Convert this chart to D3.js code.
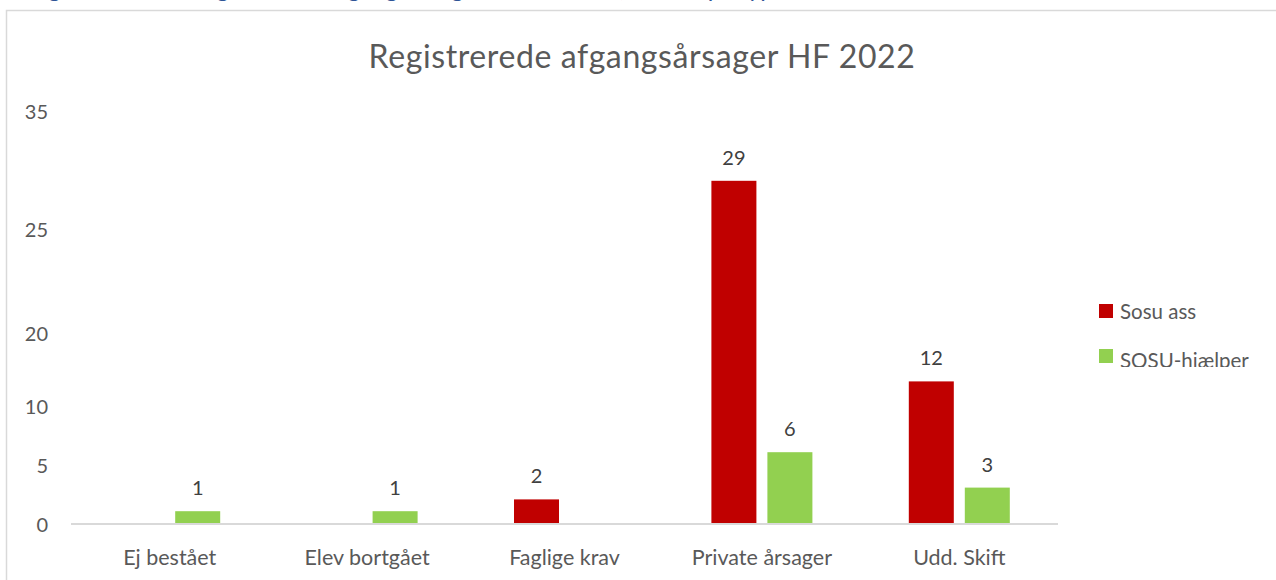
<!DOCTYPE html>
<html>
<head>
<meta charset="utf-8">
<script src="https://cdn.jsdelivr.net/npm/d3@7"></script>
<style>
  html, body { margin: 0; padding: 0; background: #fff; }
  svg { display: block; font-family: Lato, "Open Sans", sans-serif; }
</style>
</head>
<body>
<svg id="chart" width="1276" height="580"></svg>
<script>
// ---- data ----
const categories = ["Ej bestået", "Elev bortgået", "Faglige krav", "Private årsager", "Udd. Skift"];
const seriesNames = ["Sosu ass", "SOSU-hjælper"];
const sosuAss = [0, 0, 2, 29, 12];
const sosuHjaelper = [1, 1, 0, 6, 3];
const seriesColors = ["#C00000", "#92D050"];
const yTickValues = [0, 5, 10, 16.2, 25, 35];
const yTickLabels = ["0", "5", "10", "20", "25", "35"];
const chartTitle = "Registrerede afgangsårsager HF 2022";
const captionText = "Figur 10: Antal Registrerede afgangsårsager for HF 2022, fordelt på type";

const seriesValues = [sosuAss, sosuHjaelper];
const FONT = "Lato, 'Open Sans', sans-serif";

const svg = d3.select("#chart");

// cut-off caption above the chart
svg.append("text")
  .attr("x", 29).attr("y", -3)
  .attr("font-size", 24)
  .attr("fill", "#2F5496")
  .text(captionText);

// chart frame
svg.append("rect")
  .attr("x", 6.5).attr("y", 10.5)
  .attr("width", 1300).attr("height", 600)
  .attr("fill", "none").attr("stroke", "#d9d9d9").attr("stroke-width", 1.5);

// title
svg.append("text")
  .attr("x", 642).attr("y", 68)
  .attr("text-anchor", "middle")
  .attr("font-size", 32)
  .attr("letter-spacing", 0.6)
  .attr("fill", "#595959")
  .text(chartTitle);

// scales
const x0 = d3.scaleBand().domain(categories).range([71, 1058]).padding(0);
const x1 = d3.scaleBand().domain(seriesNames).range([0, x0.bandwidth()])
  .paddingInner(0.1964).paddingOuter(0.8607);
const y = d3.scaleLinear().domain([0, 35]).range([523, 110]);

// y axis labels (no line)
const yAxis = d3.axisLeft(y)
  .tickValues(yTickValues)
  .tickFormat((d, i) => yTickLabels[i])
  .tickSize(0).tickPadding(0);
const gy = svg.append("g").attr("transform", "translate(48,2)").call(yAxis);
gy.select(".domain").remove();
gy.selectAll("text").attr("font-size", 20).attr("fill", "#595959")
  .attr("font-family", FONT);

// bars
const groups = svg.append("g").selectAll("g")
  .data(categories)
  .join("g")
  .attr("transform", d => `translate(${x0(d)},0)`);

const barData = (cat, ci) => seriesNames.map((s, si) => ({ s, si, v: seriesValues[si][ci] }));

groups.each(function (cat, ci) {
  const g = d3.select(this);
  const data = barData(cat, ci).filter(d => d.v > 0);
  g.selectAll("rect").data(data).join("rect")
    .attr("x", d => x1(d.s))
    .attr("width", x1.bandwidth())
    .attr("y", d => y(d.v))
    .attr("height", d => y(0) - y(d.v))
    .attr("fill", d => seriesColors[d.si]);
  g.selectAll("text.val").data(data).join("text")
    .attr("class", "val")
    .attr("x", d => x1(d.s) + x1.bandwidth() / 2)
    .attr("y", d => y(d.v) - 16)
    .attr("text-anchor", "middle")
    .attr("font-size", 20)
    .attr("fill", "#404040")
    .text(d => d.v);
});

// x axis line
svg.append("line")
  .attr("x1", 71).attr("x2", 1058)
  .attr("y1", 524).attr("y2", 524)
  .attr("stroke", "#d9d9d9").attr("stroke-width", 2);

// x axis labels
const xAxis = d3.axisBottom(x0).tickSize(0).tickPadding(0);
const gx = svg.append("g").attr("transform", "translate(0,565)").call(xAxis);
gx.select(".domain").remove();
gx.selectAll("text").attr("font-size", 21.5).attr("fill", "#595959")
  .attr("font-family", FONT)
  .attr("dy", 0);

// legend (clipped at bottom as in the reference)
svg.append("clipPath").attr("id", "legclip")
  .append("rect").attr("x", 1080).attr("y", 280).attr("width", 200).attr("height", 87);
const legend = svg.append("g").attr("clip-path", "url(#legclip)");
const li = legend.selectAll("g").data(seriesNames).join("g")
  .attr("transform", (d, i) => `translate(1099,${304 + i * 45})`);
li.append("rect").attr("width", 14).attr("height", 14)
  .attr("fill", (d, i) => seriesColors[i]);
li.append("text").attr("x", 21).attr("y", (d, i) => 15 + i * 4)
  .attr("font-size", 20.5).attr("fill", "#595959")
  .text(d => d);
</script>
</body>
</html>
